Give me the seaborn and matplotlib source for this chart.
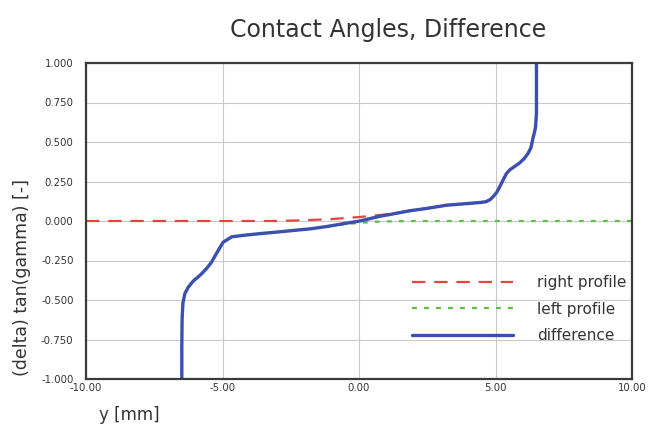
import numpy as np
import pandas as pd
import matplotlib
matplotlib.use("Agg")
import matplotlib.pyplot as plt
import seaborn as sns

# ---- data ----
diff_x = [-6.49, -6.49, -6.48, -6.45, -6.38, -6.26, -6.07, -5.80, -5.58, -5.40, -5.27, -5.10,
          -4.98, -4.80, -4.66, -4.20, -3.63, -3.00, -2.42, -1.80, -1.18, -0.60, 0.03, 0.77,
          1.25, 1.87, 2.50, 3.21, 3.80, 4.43, 4.65, 4.80, 4.92, 5.04, 5.15, 5.28, 5.40, 5.53,
          5.70, 5.90, 6.05, 6.20, 6.30, 6.38, 6.44, 6.47, 6.50, 6.50, 6.50]
diff_y = [-1.20, -0.80, -0.62, -0.52, -0.46, -0.42, -0.38, -0.34, -0.30, -0.26, -0.22, -0.17,
          -0.135, -0.115, -0.10, -0.09, -0.08, -0.07, -0.06, -0.05, -0.035, -0.018, 0.00, 0.030,
          0.045, 0.065, 0.080, 0.100, 0.108, 0.117, 0.122, 0.135, 0.155, 0.180, 0.215, 0.260,
          0.300, 0.325, 0.345, 0.370, 0.395, 0.430, 0.465, 0.530, 0.570, 0.600, 0.680, 0.85, 1.20]

right_x = [-10.0, -6.0, -3.0, -2.0, -1.0, 0.0, 1.0, 1.5, 1.87, 2.50, 3.21, 3.80, 4.43, 4.65,
           4.80, 4.92, 5.04, 5.15, 5.28, 5.40, 5.53, 5.70, 5.90, 6.05, 6.20, 6.30, 6.38, 6.44,
           6.47, 6.50, 6.50, 6.50]
right_y = [0.0, 0.0, 0.0, 0.005, 0.012, 0.025, 0.042, 0.055, 0.066, 0.081, 0.100, 0.108,
           0.117, 0.122, 0.135, 0.155, 0.180, 0.215, 0.260, 0.300, 0.325, 0.345, 0.370, 0.395,
           0.430, 0.465, 0.530, 0.570, 0.600, 0.680, 0.85, 1.20]

left_x = [-6.49, -6.49, -6.48, -6.45, -6.38, -6.26, -6.07, -5.80, -5.58, -5.40, -5.27, -5.10,
          -4.98, -4.80, -4.66, -4.20, -3.63, -3.00, -2.42, -1.80, -1.18, -0.60, 0.0, 0.6,
          1.2, 2.0, 5.0, 10.0]
left_y = [-1.20, -0.80, -0.62, -0.52, -0.46, -0.42, -0.38, -0.34, -0.30, -0.26, -0.22, -0.17,
          -0.135, -0.115, -0.10, -0.09, -0.08, -0.07, -0.06, -0.05, -0.035, -0.022, -0.012, -0.005,
          -0.002, 0.0, 0.0, 0.0]

x_ticks = [-10, -5, 0, 5, 10]
x_tick_labels = ["-10.00", "-5.00", "0.00", "5.00", "10.00"]
y_ticks = [-1.0, -0.75, -0.5, -0.25, 0.0, 0.25, 0.5, 0.75, 1.0]
y_tick_labels = ["-1.000", "-0.750", "-0.500", "-0.250", "0.000", "0.250", "0.500", "0.750", "1.000"]

title = "Contact Angles, Difference"
x_label = "y [mm]"
y_label = "(delta) tan(gamma) [-]"
series_labels = ["right profile", "left profile", "difference"]

# ---- plot ----
sns.set_style("white")
plt.rcParams["font.family"] = ["DejaVu Sans"]

fig = plt.figure(figsize=(6.54, 4.30), dpi=100)
ax = fig.add_axes([86 / 654, 1 - 379 / 430, (632 - 86) / 654, (379 - 63) / 430])

df_r = pd.DataFrame({"x": right_x, "y": right_y})
df_l = pd.DataFrame({"x": left_x, "y": left_y})
df_d = pd.DataFrame({"x": diff_x, "y": diff_y})

sns.lineplot(data=df_r, x="x", y="y", sort=False, estimator=None, ax=ax,
             color="#e0453f", linewidth=1.6, label=series_labels[0])
sns.lineplot(data=df_l, x="x", y="y", sort=False, estimator=None, ax=ax,
             color="#62bb4a", linewidth=1.6, label=series_labels[1])
sns.lineplot(data=df_d, x="x", y="y", sort=False, estimator=None, ax=ax,
             color="#3b4fae", linewidth=2.4, label=series_labels[2])

lines = ax.get_lines()
lines[0].set_linestyle((0, (6, 4)))
lines[1].set_linestyle((0, (2.2, 3.2)))

ax.set_xlim(-10, 10)
ax.set_ylim(-1, 1)
ax.set_xticks(x_ticks)
ax.set_xticklabels(x_tick_labels)
ax.set_yticks(y_ticks)
ax.set_yticklabels(y_tick_labels)
ax.grid(True, color="#c9c9c9", linewidth=0.8)
ax.set_axisbelow(True)
for s in ax.spines.values():
    s.set_color("#3a3a3a")
    s.set_linewidth(1.6)
ax.tick_params(axis="both", direction="in", length=3, width=0.8, color="#555555",
               labelsize=7.3, labelcolor="#333333")
ax.tick_params(axis="y", pad=9)
ax.tick_params(axis="x", pad=3)
ax.set_xlabel("")
ax.set_ylabel("")

leg = ax.legend(loc="upper left", bbox_to_anchor=(412 / 654, 1 - 275 / 430),
                bbox_transform=fig.transFigure, frameon=False, fontsize=11,
                handlelength=6.6, handletextpad=1.6, labelspacing=0.76,
                borderpad=0, borderaxespad=0)
for t in leg.get_texts():
    t.set_color("#333333")

fig.text(388 / 654, 1 - 30 / 430, title, ha="center", va="center",
         fontsize=17, color="#333333")
fig.text(99 / 654, 1 - 415 / 430, x_label, ha="left", va="center",
         fontsize=12, color="#333333")
fig.text(22 / 654, 1 - 277 / 430, y_label, ha="center", va="center",
         rotation=90, fontsize=12.5, color="#333333")

fig.savefig("out.png", dpi=100)
